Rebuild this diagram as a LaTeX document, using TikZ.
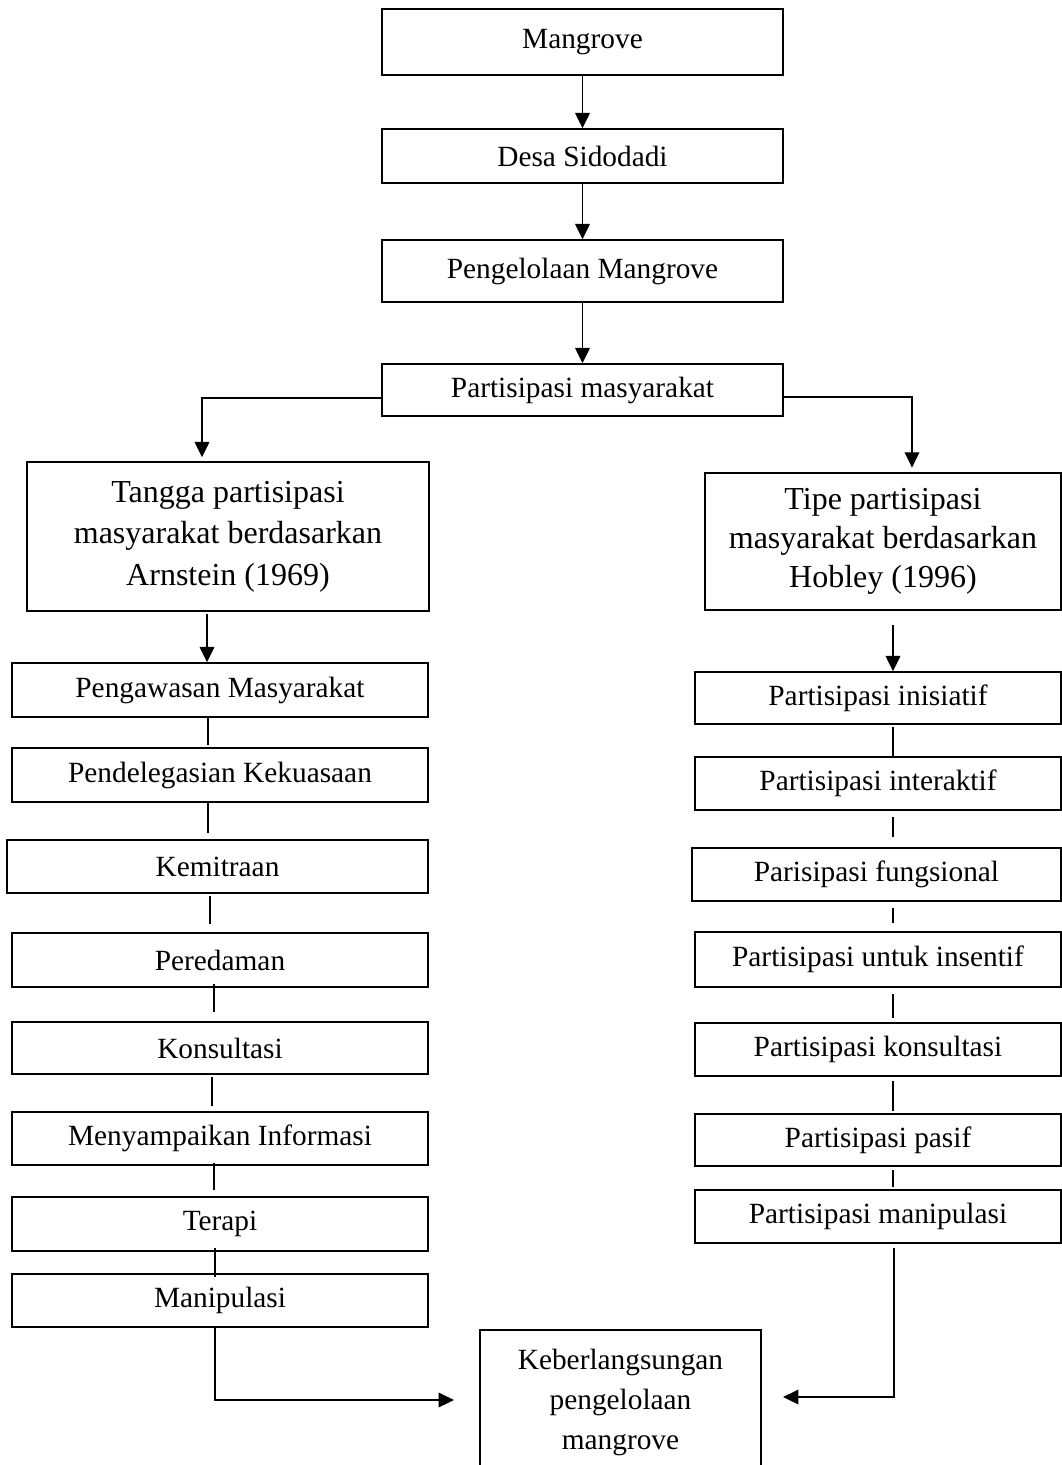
\documentclass[tikz,border=0pt]{standalone}
\usepackage{fontspec}
\setmainfont{Liberation Serif}
\usetikzlibrary{arrows.meta}
\newcommand{\mkbox}[7][]{%
  \node[box,#1,minimum width={(#5-#3)*0.75pt},minimum height={(#6-#4)*0.75pt}]
    (#2) at ({(#3+#5)/2},{(#4+#6)/2}) {#7};}
\begin{document}
\begin{tikzpicture}[x=0.75pt,y=-0.75pt,
  box/.style={draw,line width=1.1pt,inner sep=0pt,align=center,font=\fontsize{22}{30}\selectfont},
  bigbox/.style={font=\fontsize{24}{31}\selectfont},
  conn/.style={line width=1pt},
  arr/.style={conn,-{Triangle[length=11.5pt,width=11pt]}}]
\fill[white] (0,0) rectangle (1062,1465);
\clip (0,0) rectangle (1062,1465);
% main column
\mkbox{m}{382}{9}{783}{75}{Mangrove}
\mkbox{d}{382}{129}{783}{183}{Desa Sidodadi}
\mkbox{p}{382}{240}{783}{302}{Pengelolaan Mangrove}
\mkbox{pm}{382}{364}{783}{416}{Partisipasi masyarakat}
% left column
\mkbox[bigbox]{tg}{27}{462}{429}{611}{Tangga partisipasi\\masyarakat berdasarkan\\Arnstein (1969)}
\mkbox{l1}{12}{663}{428}{717}{Pengawasan Masyarakat}
\mkbox{l2}{12}{748}{428}{802}{Pendelegasian Kekuasaan}
\mkbox{l3}{7}{840}{428}{893}{Kemitraan}
\mkbox{l4}{12}{933}{428}{987}{Peredaman}
\mkbox{l5}{12}{1022}{428}{1074}{Konsultasi}
\mkbox{l6}{12}{1112}{428}{1165}{Menyampaikan Informasi}
\mkbox{l7}{12}{1197}{428}{1251}{Terapi}
\mkbox{l8}{12}{1274}{428}{1327}{Manipulasi}
% right column
\mkbox[font=\fontsize{24}{29}\selectfont]{tp}{705}{473}{1061}{610}{Tipe partisipasi\\masyarakat berdasarkan\\Hobley (1996)}
\mkbox{r1}{695}{672}{1061}{724}{Partisipasi inisiatif}
\mkbox{r2}{695}{757}{1061}{810}{Partisipasi interaktif}
\mkbox{r3}{692}{848}{1061}{901}{Parisipasi fungsional}
\mkbox{r4}{695}{932}{1061}{987}{Partisipasi untuk insentif}
\mkbox{r5}{695}{1023}{1061}{1076}{Partisipasi konsultasi}
\mkbox{r6}{695}{1114}{1061}{1166}{Partisipasi pasif}
\mkbox{r7}{695}{1190}{1061}{1243}{Partisipasi manipulasi}
% final
\mkbox{kb}{480}{1330}{761}{1474}{Keberlangsungan\\pengelolaan\\mangrove}
% helper coordinates
\coordinate (cL) at (202,398);
\coordinate (cR) at (912,397);
\coordinate (xa) at (207,0);
\coordinate (xb) at (208,0);
\coordinate (xc) at (210,0);
\coordinate (xd) at (214,0);
\coordinate (xe) at (212,0);
\coordinate (xf) at (215,0);
\coordinate (xr) at (893,0);
\coordinate (bL) at (215,1400);
\coordinate (bR) at (894,1397);
% top connectors
\draw[arr] (m.south) -- (d.north);
\draw[arr] (d.south) -- (p.north);
\draw[arr] (p.south) -- (pm.north);
\draw[arr,shorten >=3pt] (pm.west |- cL) -| (tg.north -| cL);
\draw[arr,shorten >=3.5pt] (pm.east |- cR) -| (tp.north -| cR);
% left chain
\draw[arr,shorten <=1.5pt] (tg.south -| xa) -- (l1.north -| xa);
\draw[conn,shorten >=1.5pt] (l1.south -| xb) -- (l2.north -| xb);
\draw[conn,shorten >=5pt] (l2.south -| xb) -- (l3.north -| xb);
\draw[conn,shorten <=1.5pt,shorten >=6pt] (l3.south -| xc) -- (l4.north -| xc);
\draw[conn,shorten <=-3pt,shorten >=7pt] (l4.south -| xd) -- (l5.north -| xd);
\draw[conn,shorten <=2pt,shorten >=4pt] (l5.south -| xe) -- (l6.north -| xe);
\draw[conn,shorten <=-2pt,shorten >=4.5pt] (l6.south -| xd) -- (l7.north -| xd);
\draw[conn,shorten <=-3pt,shorten >=-2.5pt] (l7.south -| xf) -- (l8.north -| xf);
% right chain
\draw[arr,shorten <=11pt] (tp.south -| xr) -- (r1.north -| xr);
\draw[conn,shorten <=2pt] (r1.south -| xr) -- (r2.north -| xr);
\draw[conn,shorten <=5pt,shorten >=8pt] (r2.south -| xr) -- (r3.north -| xr);
\draw[conn,shorten <=4.5pt,shorten >=6pt] (r3.south -| xr) -- (r4.north -| xr);
\draw[conn,shorten <=4.5pt,shorten >=3pt] (r4.south -| xr) -- (r5.north -| xr);
\draw[conn,shorten <=3pt,shorten >=1.5pt] (r5.south -| xr) -- (r6.north -| xr);
\draw[conn,shorten <=2.5pt,shorten >=1.5pt] (r6.south -| xr) -- (r7.north -| xr);
% to final
\draw[arr,shorten >=19pt] (l8.south -| bL) -- (bL) -- (kb.west |- bL);
\draw[arr,shorten <=3pt,shorten >=16pt] (r7.south -| bR) -- (bR) -- (kb.east |- bR);
\end{tikzpicture}
\end{document}
